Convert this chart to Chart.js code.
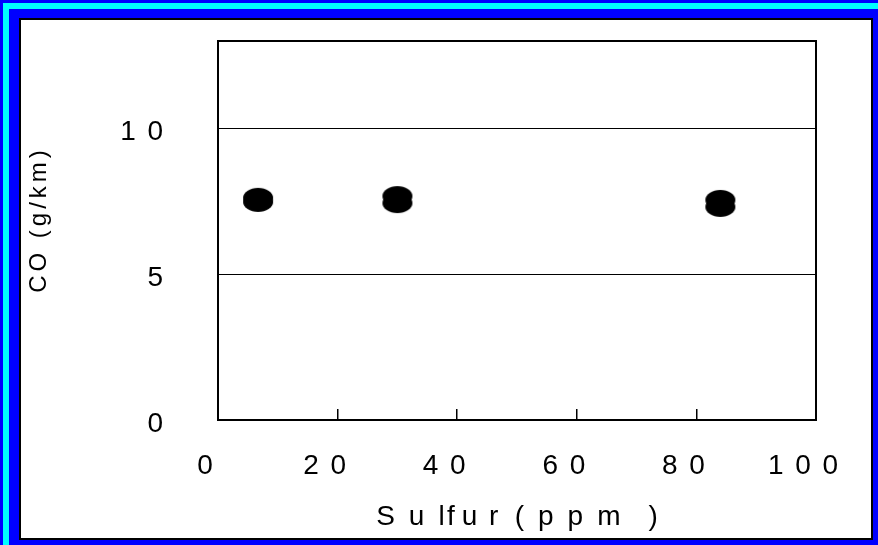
<!DOCTYPE html>
<html>
<head>
<meta charset="utf-8">
<script src="https://cdn.jsdelivr.net/npm/chart.js@4.4.1/dist/chart.umd.min.js"></script>
<style>
    html, body { margin: 0; padding: 0; }
    body { width: 878px; height: 545px; background: #0000ff; position: relative; overflow: hidden; }
    .stripe { position: absolute; left: 3px; top: 3px; right: 0; bottom: 0; border-top: 6px solid #00ffff; border-left: 6px solid #00ffff; }
    .panel { position: absolute; left: 19px; top: 18px; width: 850px; height: 518px; background: #fff; border: 2px solid #000; }
    .panel div { position: relative; width: 850px; height: 518px; }
</style>
</head>
<body>
<div class="stripe"></div>
<div class="panel"><div><canvas id="coChart"></canvas></div></div>
<script>
(function () {
    "use strict";

    // Data
    const sulfurPpm = [6.7, 6.7, 30, 30, 84, 84];
    const coGkm = [7.62, 7.48, 7.68, 7.44, 7.55, 7.31];
    const xTickValues = [0, 20, 40, 60, 80, 100];
    const xTickLabels = ["0", "2 0", "4 0", "6 0", "8 0", "1 0 0"];
    const yTickValues = [0, 5, 10];
    const yTickLabels = ["0", "5", "1 0"];

    const font = "'Liberation Sans', Arial, sans-serif";
    const label = (values, labels, v) => {
        const i = values.indexOf(v);
        return i < 0 ? "" : labels[i].replace(/ /g, "\u2004\u200a");
    };
    // fixed scale sizes, no extra label padding
    const fixSize = (w, h) => (scale) => {
        if (w) scale.width = w;
        if (h) scale.height = h;
        scale.paddingTop = 0;
        scale.paddingBottom = 0;
        scale.paddingLeft = 0;
        scale.paddingRight = 0;
    };

    // Ellipse marker
    const marker = document.createElement("canvas");
    marker.width = 32;
    marker.height = 22;
    const mctx = marker.getContext("2d");
    mctx.fillStyle = "#000";
    mctx.beginPath();
    mctx.ellipse(16, 11, 15, 10, 0, 0, Math.PI * 2);
    mctx.fill();

    const frame = {
        id: "frame",
        afterDraw(chart) {
            const { ctx, chartArea: a } = chart;
            ctx.save();
            ctx.strokeStyle = "#000";
            ctx.lineWidth = 2;
            ctx.strokeRect(a.left, a.top, a.right - a.left, a.bottom - a.top);
            ctx.restore();
        },
    };

    const ctx = document.getElementById("coChart").getContext("2d");
    new Chart(ctx, {
        type: "scatter",
        data: {
            datasets: [
                {
                    data: sulfurPpm.map((x, i) => ({ x: x, y: coGkm[i] })),
                    pointStyle: marker,
                    pointRadius: 15,
                },
            ],
        },
        options: {
            responsive: true,
            maintainAspectRatio: false,
            animation: false,
            events: [],
            layout: { padding: { top: 21, right: 55, left: 0, bottom: 0 } },
            plugins: {
                legend: { display: false },
                tooltip: { enabled: false },
            },
            scales: {
                x: {
                    type: "linear",
                    min: 0,
                    max: 100,
                    afterFit: fixSize(0, 118),
                    ticks: {
                        stepSize: 20,
                        padding: 40,
                        labelOffset: -13,
                        color: "#000",
                        font: { family: font, size: 28 },
                        callback: (v) => label(xTickValues, xTickLabels, v),
                    },
                    grid: {
                        drawOnChartArea: false,
                        drawTicks: true,
                        tickLength: -11,
                        color: "#000",
                        lineWidth: 1.5,
                    },
                    border: { display: false },
                    title: {
                        display: true,
                        text: "S\u2002u\u2002l\u200af\u2005u\u2004\u200ar\u2002\u200a(\u2002p\u2002p\u2002m\u2003)",
                        color: "#000",
                        font: { family: font, size: 28 },
                        padding: { top: 0, bottom: 4 },
                    },
                },
                y: {
                    min: 0,
                    max: 13,
                    bounds: "data",
                    afterFit: fixSize(197, 0),
                    ticks: {
                        stepSize: 5,
                        includeBounds: false,
                        padding: 55,
                        labelOffset: 4,
                        color: "#000",
                        font: { family: font, size: 28 },
                        callback: (v) => label(yTickValues, yTickLabels, v),
                    },
                    grid: {
                        drawTicks: false,
                        color: "#000",
                        lineWidth: 1,
                    },
                    border: { display: false },
                    title: {
                        display: true,
                        text: "\u2002\u2005C\u2006O\u2006 \u2006(\u2006g\u2006/\u2006k\u2006m\u2006)",
                        color: "#000",
                        font: { family: font, size: 24 },
                        padding: { top: 4, bottom: 0 },
                    },
                },
            },
        },
        plugins: [frame],
    });
})();
</script>
</body>
</html>
